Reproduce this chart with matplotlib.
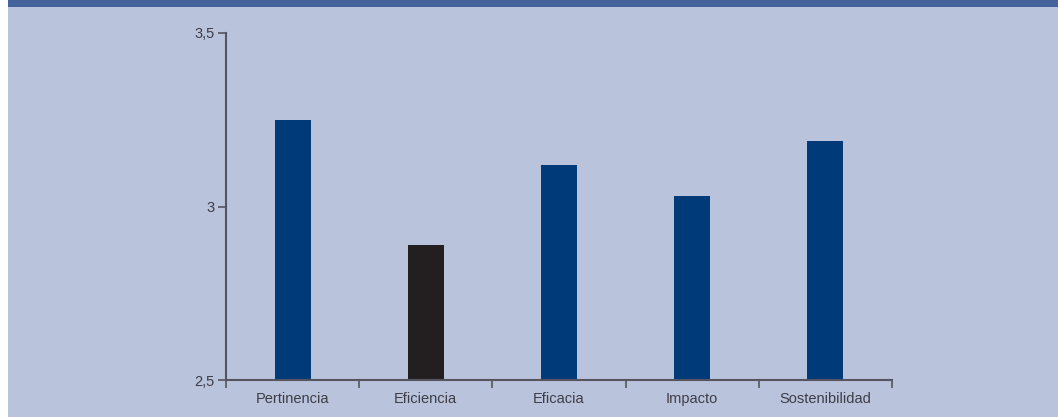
import matplotlib
matplotlib.use("Agg")
import matplotlib.pyplot as plt
from matplotlib.patches import Rectangle
import numpy as np

categories = ["Pertinencia", "Eficiencia", "Eficacia", "Impacto", "Sostenibilidad"]
values = [3.25, 2.89, 3.12, 3.03, 3.19]
bar_colors = ["#003a78", "#231f20", "#003a78", "#003a78", "#003a78"]
yticks = [2.5, 3.0, 3.5]
ytick_labels = ["2,5", "3", "3,5"]

W, H = 1058, 417
bg = "#bac3dc"
band = "#45639b"
axis_col = "#555560"
text_col = "#3d3d48"

plt.rcParams['font.family'] = ['Liberation Sans', 'DejaVu Sans']

fig = plt.figure(figsize=(W / 100, H / 100), dpi=100)
fig.patch.set_facecolor("white")
# background panel and the dark strip on top
fig.patches.append(Rectangle((8 / W, 0), 1 - 8 / W, 1, transform=fig.transFigure,
                             facecolor=bg, edgecolor="none", zorder=-2))
fig.patches.append(Rectangle((8 / W, 1 - 7 / H), 1 - 8 / W, 7 / H, transform=fig.transFigure,
                             facecolor=band, edgecolor="none", zorder=-1))

ax = fig.add_axes([226 / W, 37 / H, (892 - 226) / W, (380 - 33) / H])
ax.set_facecolor("none")

x = np.arange(len(categories))
ax.bar(x, values, width=0.27, color=bar_colors, zorder=2)

ax.set_xlim(-0.5, len(categories) - 0.5)
ax.set_ylim(2.5, 3.5)
ax.set_yticks(yticks)
ax.set_yticklabels(ytick_labels)
ax.set_xticks(np.arange(-0.5, len(categories), 1.0))
ax.set_xticklabels([])
ax.set_xticks(x, minor=True)
ax.set_xticklabels(categories, minor=True, va="baseline")

for s in ["top", "right"]:
    ax.spines[s].set_visible(False)
for s in ["left", "bottom"]:
    ax.spines[s].set_color(axis_col)
    ax.spines[s].set_linewidth(1.5)

ax.tick_params(axis="y", direction="out", length=6, width=1.2, color=axis_col,
               labelsize=10.5, labelcolor=text_col, pad=2)
ax.tick_params(axis="x", which="major", direction="out", length=6, width=1.2,
               color=axis_col, bottom=True)
ax.tick_params(axis="x", which="minor", length=0, labelsize=10.5,
               labelcolor=text_col, pad=16.5)

fig.savefig("out.png", dpi=100, facecolor=fig.get_facecolor())
